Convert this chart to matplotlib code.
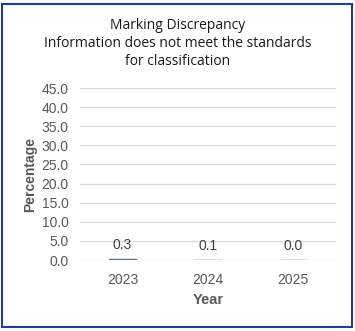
import matplotlib.pyplot as plt
from matplotlib.patches import Rectangle

# data
years = ['2023', '2024', '2025']
percent = [0.3, 0.1, 0.0]
yticks = [0, 5, 10, 15, 20, 25, 30, 35, 40, 45]

fig = plt.figure(figsize=(3.55, 3.31), dpi=100)
ax = fig.add_axes([0.225, 0.2145, 0.721, 0.5195])

x = range(len(years))
bars = ax.bar(x, percent, width=0.32, color='#8496B0', edgecolor='#5B6B85', linewidth=1.0, zorder=3)

for i, v in enumerate(percent):
    ax.annotate(f'{v:.1f}', (i, v), xytext=(0, 5), textcoords='offset points',
                ha='center', va='bottom', fontsize=10, color='#404040', family='Liberation Sans')

ax.set_xlim(-0.5, 2.5)
ax.set_ylim(0, 45)
ax.set_yticks(yticks)
ax.set_yticklabels([f'{t:.1f}' for t in yticks])
ax.set_xticks(list(x))
ax.set_xticklabels(years)
ax.tick_params(length=0, labelsize=10, labelcolor='#595959', pad=8)
ax.tick_params(axis='x', pad=9)
for lab in ax.get_xticklabels() + ax.get_yticklabels():
    lab.set_family('Liberation Sans')
ax.grid(axis='y', color='#D9D9D9', linewidth=0.9, zorder=0)
for s in ax.spines.values():
    s.set_visible(False)

ax.set_xlabel('Year', fontsize=10.5, fontweight='bold', color='#595959', family='Liberation Sans', labelpad=5)
ax.set_ylabel('Percentage', fontsize=10, fontweight='bold', color='#595959', family='Liberation Sans', labelpad=3)

fig.text(0.5, 0.945, 'Marking Discrepancy\nInformation does not meet the standards\nfor classification',
         ha='center', va='top', fontsize=10, color='#1A1A1A', family='Open Sans', linespacing=1.25)

# outer border
fig.patches.append(Rectangle((0.007, 0.012), 0.984, 0.976, transform=fig.transFigure,
                             fill=False, edgecolor='#1F3C99', linewidth=1.5))

fig.savefig('out.png', dpi=100)
